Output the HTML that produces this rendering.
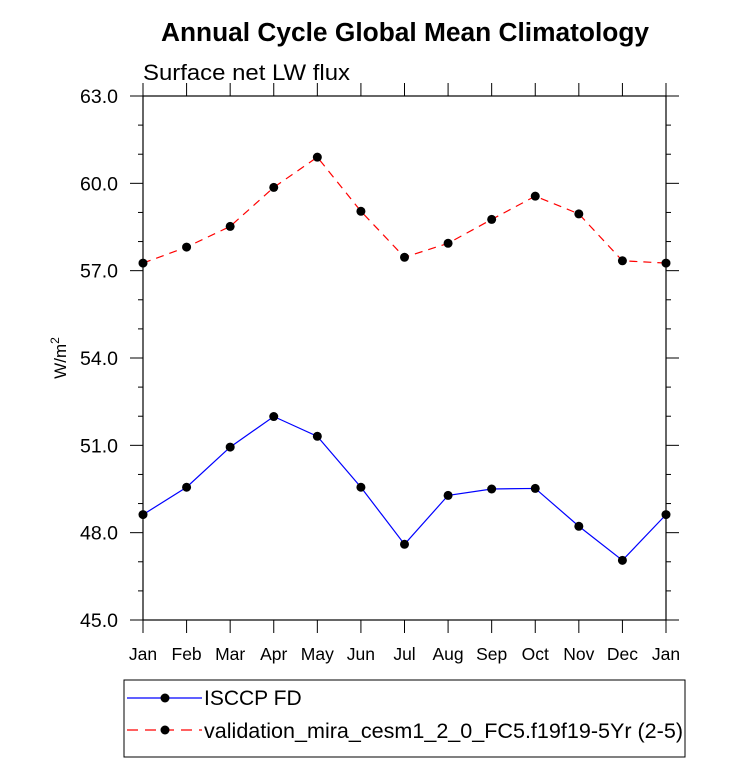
<!DOCTYPE html>
<html><head><meta charset="utf-8"><style>
body{margin:0;background:#fff;}
svg text{font-family:"Liberation Sans",Arial,sans-serif;}
</style></head><body>
<svg id="chart" width="733" height="770" xmlns="http://www.w3.org/2000/svg">
<text x="405" y="41" text-anchor="middle" font-size="26.3" font-weight="bold">Annual Cycle Global Mean Climatology</text>
<text x="143" y="80" font-size="22" textLength="207" lengthAdjust="spacingAndGlyphs">Surface net LW flux</text>
<g id="axes"></g>
<g id="series"></g>
<g id="legend">
<rect x="124" y="680" width="561" height="77" fill="none" stroke="#000" stroke-width="1"/>
<g>
<line x1="127" y1="698" x2="202" y2="698" stroke="#0000ff" stroke-width="1.2"/>
<circle cx="165" cy="698" r="4.5" fill="#000"/>
<text x="204" y="705" font-size="21">ISCCP FD</text></g>
<g>
<line x1="127" y1="730" x2="202" y2="730" stroke="#ff0000" stroke-width="1.2" stroke-dasharray="11,7"/>
<circle cx="165" cy="730" r="4.5" fill="#000"/>
<text x="204" y="738" font-size="21" textLength="479" lengthAdjust="spacingAndGlyphs">validation_mira_cesm1_2_0_FC5.f19f19-5Yr (2-5)</text></g>
</g>
</svg>
<script>
const months=["Jan","Feb","Mar","Apr","May","Jun","Jul","Aug","Sep","Oct","Nov","Dec","Jan"];
const isccpValues=[48.62,49.56,50.94,51.99,51.31,49.56,47.6,49.28,49.5,49.52,48.22,47.05,48.62];
const modelValues=[57.26,57.81,58.52,59.86,60.9,59.04,57.46,57.94,58.76,59.56,58.95,57.34,57.26];
const yTicks=[45,48,51,54,57,60,63];
const yTickLabels=["45.0","48.0","51.0","54.0","57.0","60.0","63.0"];
const NS="http://www.w3.org/2000/svg";
const L=143,R=666,T=96,B=620,ymin=45,ymax=63;
const xs=i=>L+(R-L)*i/(months.length-1);
const ys=v=>B-(B-T)*(v-ymin)/(ymax-ymin);
function mk(tag,attrs,parent){const e=document.createElementNS(NS,tag);for(const k in attrs)e.setAttribute(k,attrs[k]);parent.appendChild(e);return e;}
const ax=document.getElementById('axes');
const frame=mk('rect',{x:L,y:T,width:R-L,height:B-T,fill:'none',stroke:'#000','stroke-width':1.2},ax);


months.forEach((m,i)=>{const x=xs(i);
mk('line',{x1:x,y1:B,x2:x,y2:B+13,stroke:'#000'},ax);
mk('line',{x1:x,y1:T,x2:x,y2:T-13,stroke:'#000'},ax);
const t=mk('text',{x:x,y:B+40,'text-anchor':'middle','font-size':17.5},ax);t.textContent=m;

});
for(let v=ymin;v<=ymax+1e-9;v+=1){const y=ys(v);const major=Math.abs((v-ymin)%3)<1e-9;const len=major?13:5;
mk('line',{x1:L,y1:y,x2:L-len,y2:y,stroke:'#000'},ax);
mk('line',{x1:R,y1:y,x2:R+len,y2:y,stroke:'#000'},ax);}
yTicks.forEach((v,i)=>{const t=mk('text',{x:L-25,y:ys(v)+7,'text-anchor':'end','font-size':19.5},ax);t.textContent=yTickLabels[i];

});
const yt=mk('text',{x:0,y:0,'font-size':17,'text-anchor':'middle',transform:`translate(66,${(T+B)/2}) rotate(-90)`},ax);
yt.innerHTML='W/m<tspan dy="-7" font-size="12">2</tspan>';


const sg=document.getElementById('series');
function drawSeries(vals,color,dash,name){
const g=mk('g',{},sg);


const attrs={points:vals.map((v,i)=>xs(i)+','+ys(v)).join(' '),fill:'none',stroke:color,'stroke-width':1.2};
if(dash)attrs['stroke-dasharray']=dash;
mk('polyline',attrs,g);
vals.forEach((v,i)=>{const c=mk('circle',{cx:xs(i),cy:ys(v),r:4.5,fill:'#000'},g);

});}
drawSeries(isccpValues,'#0000ff',null,'isccp-series');
drawSeries(modelValues,'#ff0000','8,6','model-series');
</script>
</body></html>
